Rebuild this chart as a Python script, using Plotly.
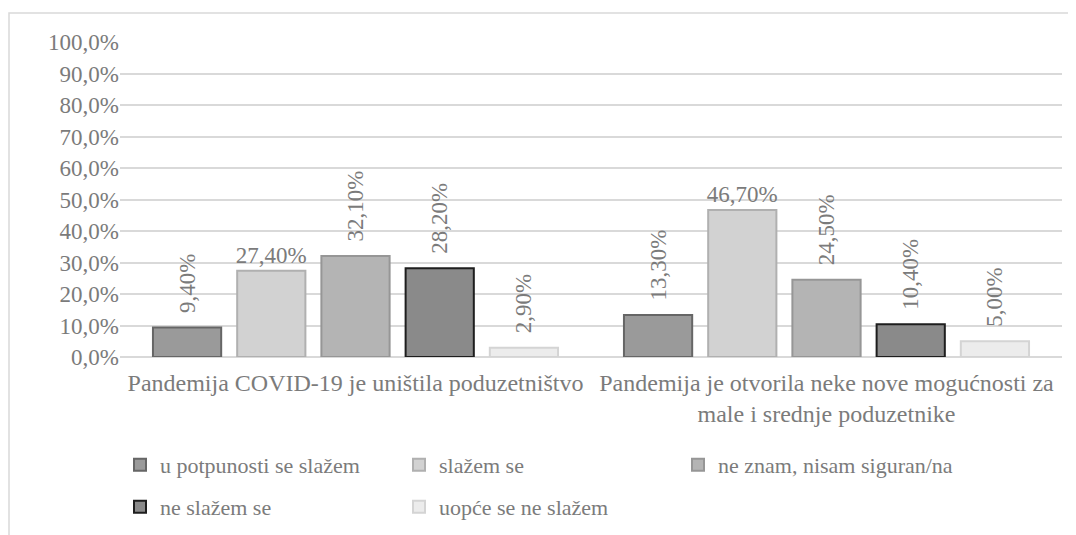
import plotly.graph_objects as go

categories = [
    "Pandemija COVID-19 je uništila poduzetništvo",
    "Pandemija je otvorila neke nove mogućnosti za<br>male i srednje poduzetnike",
]
series_names = [
    "u potpunosti se slažem",
    "slažem se",
    "ne znam, nisam siguran/na",
    "ne slažem se",
    "uopće se ne slažem",
]
values = [
    [9.4, 13.3],
    [27.4, 46.7],
    [32.1, 24.5],
    [28.2, 10.4],
    [2.9, 5.0],
]
fill_colors = ["#9a9a9a", "#d2d2d2", "#b4b4b4", "#8a8a8a", "#ececec"]
line_colors = ["#666666", "#b0b0b0", "#969696", "#1e1e1e", "#d4d4d4"]
text_angles = [-90, 0, -90, -90, -90]
legend_rows = ["legend", "legend", "legend", "legend2", "legend2"]
y_ticks = [0, 10, 20, 30, 40, 50, 60, 70, 80, 90, 100]
y_ticktext = [f"{v:.1f}%".replace(".", ",") for v in y_ticks]

FONT = "Liberation Serif, Times New Roman, serif"
GREY = "#7b7b7b"

# the page body adds an 8px margin; the figure is sized to fit the window
W, H = 1068, 527
ML, MR, MT = 112, 14, 34
PLOT_H = 315
MB = H - MT - PLOT_H

fig = go.Figure()
for name, vals, fc, lc, ang, lg in zip(series_names, values, fill_colors, line_colors, text_angles, legend_rows):
    if ang == 0:
        tmpl = "%{y:.2f}%"
    else:
        tmpl = "\u00a0\u00a0%{y:.2f}%"
    fig.add_trace(go.Bar(
        name=name,
        x=categories,
        y=vals,
        legend=lg,
        marker=dict(color=fc, line=dict(color=lc, width=2)),
        texttemplate=tmpl,
        textposition="outside",
        textangle=ang,
        constraintext="none",
        cliponaxis=False,
        textfont=dict(family=FONT, size=23, color=GREY),
    ))

legend_common = dict(
    orientation="h",
    x=0.0,
    xanchor="left",
    yanchor="middle",
    yref="container",
    entrywidth=234,
    font=dict(family=FONT, size=22, color=GREY),
    itemwidth=30,
    bgcolor="rgba(0,0,0,0)",
)

fig.update_layout(
    width=W,
    height=H,
    barmode="group",
    bargap=0.106,
    bargroupgap=0.19,
    separators=",.",
    plot_bgcolor="white",
    paper_bgcolor="white",
    margin=dict(l=ML, r=MR, t=MT, b=MB),
    font=dict(family=FONT, size=23, color=GREY),
    showlegend=True,
    legend=dict(legend_common, y=1 - 457 / H),
    legend2=dict(legend_common, y=1 - 499 / H),
    xaxis=dict(
        showgrid=False,
        showline=False,
        ticks="",
        ticklabelstandoff=9,
        automargin=False,
        tickfont=dict(family=FONT, size=24, color=GREY),
    ),
    yaxis=dict(
        range=[0, 100],
        tickvals=y_ticks,
        ticktext=y_ticktext,
        showgrid=True,
        gridcolor="#d9d9d9",
        gridwidth=1.5,
        zeroline=True,
        zerolinecolor="#d9d9d9",
        zerolinewidth=1.5,
        showline=False,
        ticks="",
        automargin=False,
        tickfont=dict(family=FONT, size=23, color=GREY),
    ),
    shapes=[dict(
        type="rect", xref="paper", yref="paper",
        x0=(1 - ML) / 942, x1=1.2, y0=-0.8, y1=(PLOT_H + MT - 5) / PLOT_H,
        line=dict(color="#d9d9d9", width=1.5), fillcolor="rgba(0,0,0,0)",
        layer="below",
    )],
)

fig.write_html("out.html")
